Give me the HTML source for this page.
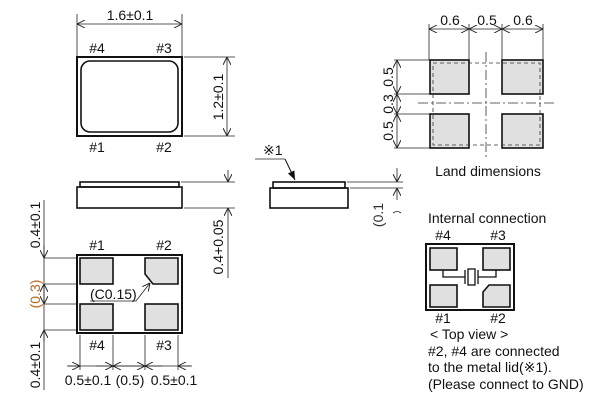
<!DOCTYPE html>
<html><head><meta charset="utf-8"><style>
html,body{margin:0;padding:0;background:#fff;}
svg{display:block;font-family:"Liberation Sans",sans-serif;}
text{font-size:14px;fill:#111;}
</style></head><body>
<svg width="600" height="402" viewBox="0 0 600 402" xmlns="http://www.w3.org/2000/svg">
<defs>
<marker id="a" viewBox="0 0 10 10" refX="10" refY="5" markerWidth="8" markerHeight="8" orient="auto-start-reverse" markerUnits="userSpaceOnUse"><path d="M0,0 L10,5 L0,10" fill="none" stroke="#222" stroke-width="1.2"/></marker>
<marker id="f" viewBox="0 0 10 10" refX="10" refY="5" markerWidth="9" markerHeight="9" orient="auto" markerUnits="userSpaceOnUse"><path d="M0,1 L10,5 L0,9z" fill="#111"/></marker>
</defs>
<g stroke="#222" stroke-width="0.8" fill="none">
<line x1="77" y1="14" x2="77" y2="57"/><line x1="182" y1="14" x2="182" y2="57"/>
<line x1="77" y1="24" x2="182" y2="24" marker-start="url(#a)" marker-end="url(#a)"/>
<line x1="184" y1="57" x2="235" y2="57"/><line x1="184" y1="136" x2="235" y2="136"/>
<line x1="227" y1="57" x2="227" y2="136" marker-start="url(#a)" marker-end="url(#a)"/>
<line x1="181" y1="182" x2="235" y2="182"/><line x1="184" y1="208" x2="235" y2="208"/>
<line x1="228" y1="170" x2="228" y2="182" marker-end="url(#a)"/>
<line x1="228" y1="278" x2="228" y2="208" marker-end="url(#a)"/>
<line x1="347" y1="182" x2="403" y2="182"/><line x1="350" y1="188" x2="403" y2="188"/>
<line x1="397" y1="168" x2="397" y2="182" marker-end="url(#a)"/>
<line x1="397" y1="200" x2="397" y2="188" marker-end="url(#a)"/>
<path d="M393,213 Q397,210 401,213"/>
<line x1="255" y1="159" x2="285" y2="159"/>
<line x1="44" y1="200" x2="44" y2="390"/>
<line x1="44" y1="258" x2="77" y2="258"/><line x1="44" y1="284" x2="77" y2="284"/>
<line x1="44" y1="304" x2="77" y2="304"/><line x1="44" y1="330" x2="77" y2="330"/>
<line x1="44" y1="246" x2="44" y2="258" marker-end="url(#a)"/>
<line x1="44" y1="342" x2="44" y2="330" marker-end="url(#a)"/>
<line x1="44" y1="294" x2="44" y2="284" marker-end="url(#a)"/>
<line x1="44" y1="294" x2="44" y2="304" marker-end="url(#a)"/>
<line x1="80" y1="335" x2="80" y2="370"/><line x1="113" y1="335" x2="113" y2="370"/>
<line x1="145" y1="335" x2="145" y2="370"/><line x1="178" y1="335" x2="178" y2="370"/>
<line x1="67" y1="366" x2="192" y2="366"/>
<line x1="68" y1="366" x2="80" y2="366" marker-end="url(#a)"/>
<line x1="96" y1="366" x2="113" y2="366" marker-end="url(#a)"/>
<line x1="129" y1="366" x2="113" y2="366" marker-end="url(#a)"/>
<line x1="129" y1="366" x2="145" y2="366" marker-end="url(#a)"/>
<line x1="162" y1="366" x2="145" y2="366" marker-end="url(#a)"/>
<line x1="191" y1="366" x2="178" y2="366" marker-end="url(#a)"/>
<polyline points="90,301 136,301 150,283" marker-end="url(#a)"/>
<line x1="429" y1="24" x2="429" y2="60"/><line x1="469" y1="24" x2="469" y2="60"/>
<line x1="502" y1="24" x2="502" y2="60"/><line x1="543" y1="24" x2="543" y2="60"/>
<line x1="429" y1="29" x2="469" y2="29" marker-start="url(#a)" marker-end="url(#a)"/>
<line x1="469" y1="29" x2="502" y2="29" marker-start="url(#a)" marker-end="url(#a)"/>
<line x1="502" y1="29" x2="543" y2="29" marker-start="url(#a)" marker-end="url(#a)"/>
<line x1="394" y1="60" x2="430" y2="60"/><line x1="394" y1="94" x2="430" y2="94"/>
<line x1="394" y1="114" x2="430" y2="114"/><line x1="394" y1="148" x2="430" y2="148"/>
<line x1="397" y1="60" x2="397" y2="94" marker-start="url(#a)" marker-end="url(#a)"/>
<line x1="397" y1="94" x2="397" y2="114" marker-start="url(#a)" marker-end="url(#a)"/>
<line x1="397" y1="114" x2="397" y2="148" marker-start="url(#a)" marker-end="url(#a)"/>
</g>
<g stroke="#111" stroke-width="2" fill="none">
<rect x="77" y="57" width="105" height="79"/>
<rect x="81" y="61" width="97" height="71" rx="9" stroke-width="1.6"/>
<rect x="80" y="182" width="99" height="5" stroke-width="1.6"/>
<rect x="77" y="187" width="105" height="21" stroke-width="1.6"/>
<rect x="273" y="182" width="72" height="6" stroke-width="1.6"/>
<rect x="270" y="188" width="78" height="20" stroke-width="1.6"/>
<rect x="77" y="255" width="105" height="78"/>
<rect x="426" y="244" width="88" height="66"/>
</g>
<line x1="285" y1="159" x2="295" y2="180" stroke="#111" stroke-width="1" marker-end="url(#f)"/>
<g fill="#e0e0e0" stroke="#111" stroke-width="1.6">
<rect x="80" y="258" width="33" height="26"/>
<path d="M145,258 H178 V284 H153 L145,274 Z"/>
<rect x="80" y="304" width="33" height="26"/>
<rect x="145" y="304" width="33" height="26"/>
<rect x="430" y="60" width="39" height="34"/><rect x="502" y="60" width="41" height="34"/>
<rect x="430" y="114" width="39" height="34"/><rect x="502" y="114" width="41" height="34"/>
<rect x="430" y="248" width="27" height="22"/><rect x="483" y="248" width="27" height="22"/>
<rect x="430" y="285" width="27" height="22"/>
<path d="M483,307 V292 L489,285 H510 V307 Z"/>
</g>
<g stroke="#333" stroke-width="0.8" fill="none">
<rect x="433" y="63" width="107" height="82" stroke-dasharray="4,3"/>
<line x1="486" y1="52" x2="486" y2="158" stroke-dasharray="10,3,2,3"/>
<line x1="418" y1="103" x2="555" y2="103" stroke-dasharray="10,3,2,3"/>
</g>
<g stroke="#111" stroke-width="1.3" fill="none">
<polyline points="443,270 443,277 465,277"/>
<line x1="465" y1="270" x2="465" y2="284"/>
<rect x="468" y="269" width="7" height="16"/>
<line x1="478" y1="270" x2="478" y2="284"/>
<polyline points="478,277 496,277 496,270"/>
</g>
<text x="130" y="20" text-anchor="middle">1.6±0.1</text>
<text x="97" y="53" text-anchor="middle">#4</text><text x="164" y="53" text-anchor="middle">#3</text>
<text x="97" y="152" text-anchor="middle">#1</text><text x="164" y="152" text-anchor="middle">#2</text>
<text transform="translate(223,97) rotate(-90)" text-anchor="middle">1.2±0.1</text>
<text transform="translate(223,247) rotate(-90)" text-anchor="middle">0.4+0.05</text>
<text x="263" y="155">※1</text>
<text transform="translate(383,215) rotate(-90)" text-anchor="middle" style="fill:#333">(0.1</text>
<text transform="translate(40,225) rotate(-90)" text-anchor="middle">0.4±0.1</text>
<text transform="translate(40,294) rotate(-90)" text-anchor="middle" style="fill:#b8651a">(0.3)</text>
<text transform="translate(40,365) rotate(-90)" text-anchor="middle">0.4±0.1</text>
<text x="97" y="250" text-anchor="middle">#1</text><text x="164" y="250" text-anchor="middle">#2</text>
<text x="97" y="350" text-anchor="middle">#4</text><text x="164" y="350" text-anchor="middle">#3</text>
<text x="90" y="299">(C0.15)</text>
<text x="88" y="385" text-anchor="middle">0.5±0.1</text>
<text x="130" y="385" text-anchor="middle">(0.5)</text>
<text x="174" y="385" text-anchor="middle">0.5±0.1</text>
<text x="450" y="25" text-anchor="middle">0.6</text>
<text x="487" y="25" text-anchor="middle">0.5</text>
<text x="523" y="25" text-anchor="middle">0.6</text>
<text transform="translate(393,77) rotate(-90)" text-anchor="middle">0.5</text>
<text transform="translate(393,104) rotate(-90)" text-anchor="middle">0.3</text>
<text transform="translate(393,131) rotate(-90)" text-anchor="middle">0.5</text>
<text x="488" y="176" text-anchor="middle">Land dimensions</text>
<text x="428" y="223">Internal connection</text>
<text x="443" y="240" text-anchor="middle">#4</text><text x="498" y="240" text-anchor="middle">#3</text>
<text x="443" y="323" text-anchor="middle">#1</text><text x="498" y="323" text-anchor="middle">#2</text>
<text x="430" y="339">&lt; Top view &gt;</text>
<text x="428" y="356">#2, #4 are connected</text>
<text x="428" y="372">to the metal lid(※1).</text>
<text x="428" y="389">(Please connect to GND)</text>
</svg>
</body></html>
